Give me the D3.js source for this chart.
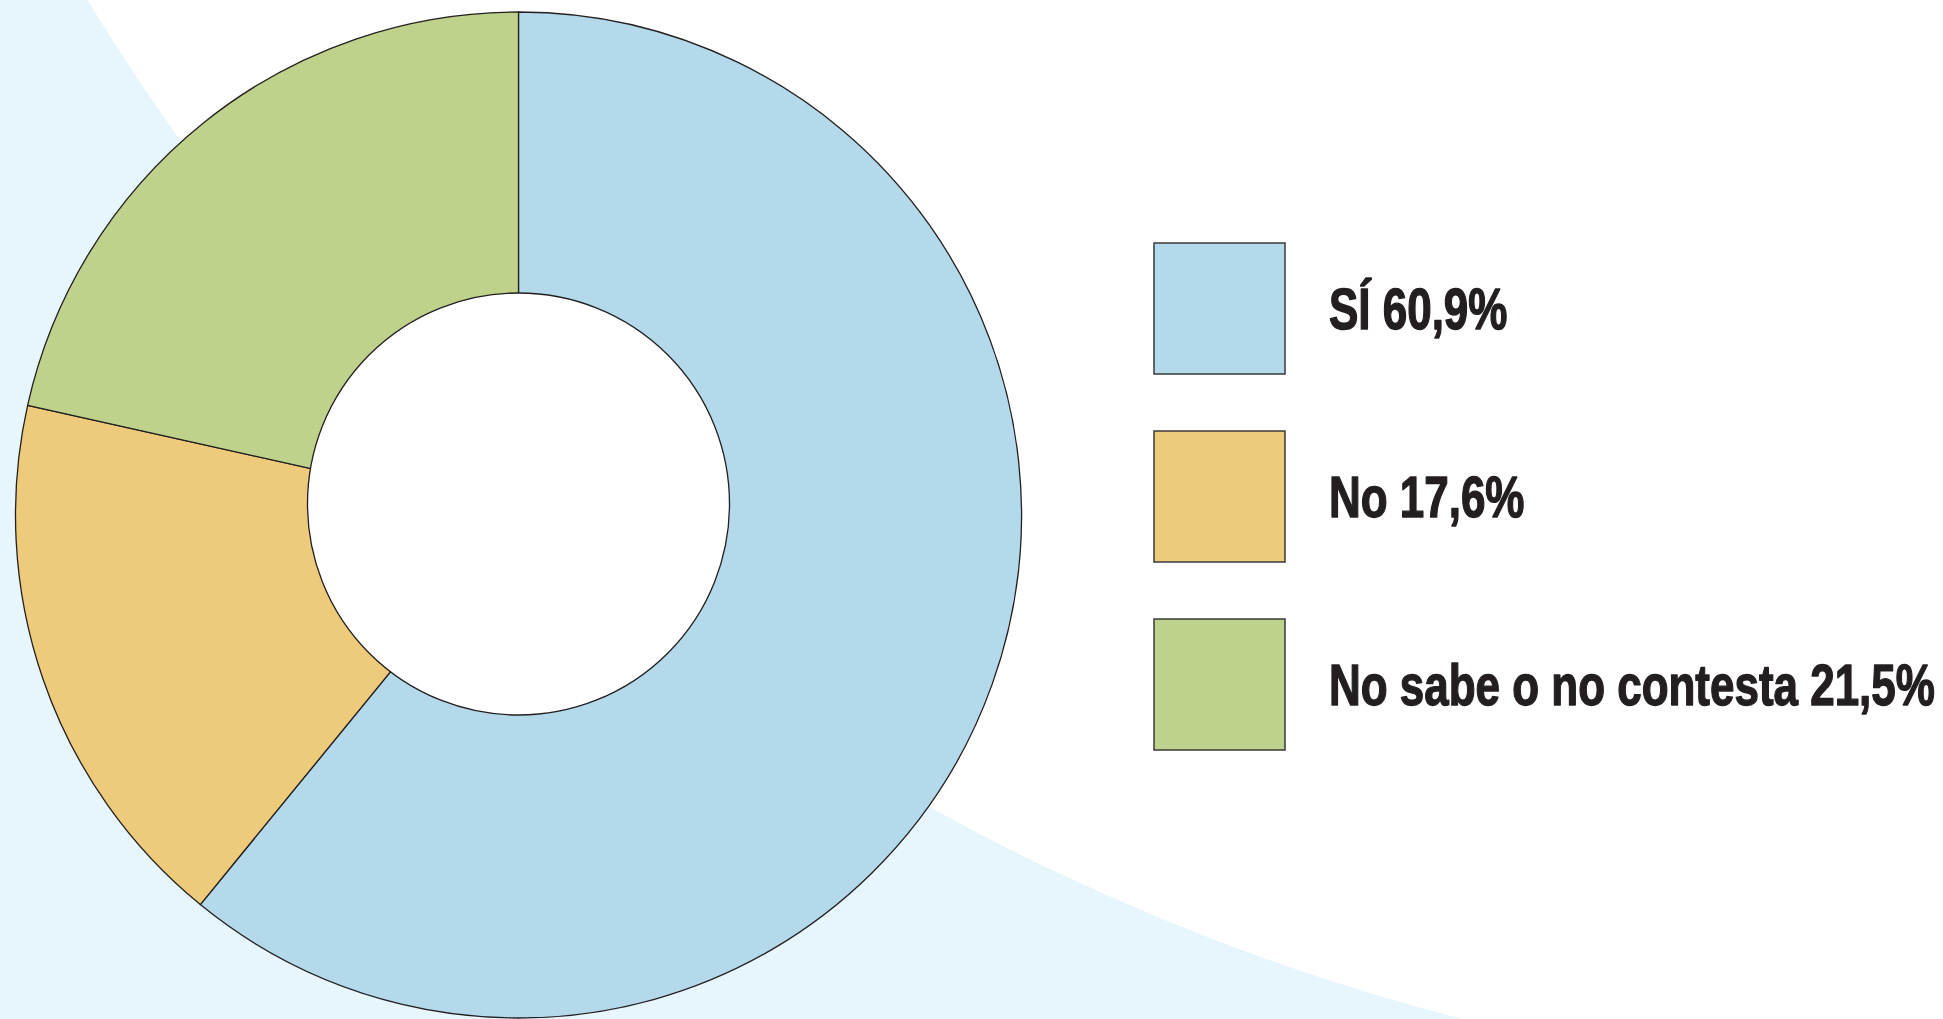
<!DOCTYPE html>
<html>
<head>
  <meta charset="utf-8"/>
  <title>SÍ / No / No sabe o no contesta</title>
  <style>
body { margin: 0; background: #fff; }
svg { display: block; }
.label {
  font-family: "Liberation Sans Narrow", "Liberation Sans", Arial, sans-serif;
  font-weight: bold;
  font-size: 57px;
  fill: #231f20;
  stroke: #231f20;
  stroke-width: 1.4px;
  stroke-linejoin: round;
}
  </style>
  <script src="https://d3js.org/d3.v7.min.js"></script>
</head>
<body>
<svg width="1943" height="1019"></svg>
<script>

// data
var categories = ["SÍ", "No", "No sabe o no contesta"];
var values = [60.9, 17.6, 21.5];
var colors = ["#b3d9ea", "#eecb7b", "#bfd28c"];

var svg = d3.select("svg"),
    width = +svg.attr("width"),
    height = +svg.attr("height"),
    cx = 518.5, cy = 515,
    outerR = 503,
    holeX = 518.5, holeY = 504, holeR = 211,   // hole sits a bit above the ring centre, as in the original
    stroke = "#231f20";

// background: pale blue with a big white disc cutting in from the top right
svg.append("rect")
    .attr("width", width).attr("height", height)
    .attr("fill", "#e7f5fc");
svg.append("circle")
    .attr("cx", 2030).attr("cy", -1184).attr("r", 2275)
    .attr("fill", "#fff");

var data = categories.map(function(c, i) { return { cat: c, value: values[i], color: colors[i] }; });

var pie = d3.pie()
    .sort(null)
    .value(function(d) { return d.value; });

var arc = d3.arc()
    .innerRadius(0)
    .outerRadius(outerR);

var g = svg.append("g").attr("transform", "translate(" + cx + "," + cy + ")");

g.selectAll("path")
  .data(pie(data))
  .enter().append("path")
    .attr("d", arc)
    .attr("fill", function(d) { return d.data.color; })
    .attr("stroke", stroke)
    .attr("stroke-width", 1.3)
    .attr("stroke-linejoin", "round");

svg.append("circle")
    .attr("cx", holeX).attr("cy", holeY).attr("r", holeR)
    .attr("fill", "#fff")
    .attr("stroke", stroke)
    .attr("stroke-width", 1.3);

// legend
var boxSize = 131,
    boxX = 1154,
    textX = 1329,
    textW = 606;   // width of the longest label in the original

var y = d3.scalePoint()
    .domain(categories)
    .range([243, 619]);

var fmt = function(v) { return d3.format(".1f")(v).replace(".", ",") + "%"; };

var legend = svg.append("g");

legend.selectAll("rect")
  .data(data)
  .enter().append("rect")
    .attr("x", boxX)
    .attr("y", function(d) { return y(d.cat); })
    .attr("width", boxSize)
    .attr("height", boxSize)
    .attr("fill", function(d) { return d.color; })
    .attr("stroke", "#3a3a3a")
    .attr("stroke-width", 1.5);

var labels = legend.selectAll("text")
  .data(data)
  .enter().append("text")
    .attr("class", "label")
    .attr("x", 0)
    .attr("y", function(d) { return y(d.cat) + boxSize / 2 + 21; })
    .text(function(d) { return d.cat + " " + fmt(d.value); });

// squeeze into a condensed look: scale all labels by the same factor
var longest = d3.max(labels.nodes(), function(n) { return n.getComputedTextLength(); });
var k = textW / longest;
labels.attr("transform", "translate(" + textX + ",0) scale(" + k + ",1)");

</script>
</body>
</html>
